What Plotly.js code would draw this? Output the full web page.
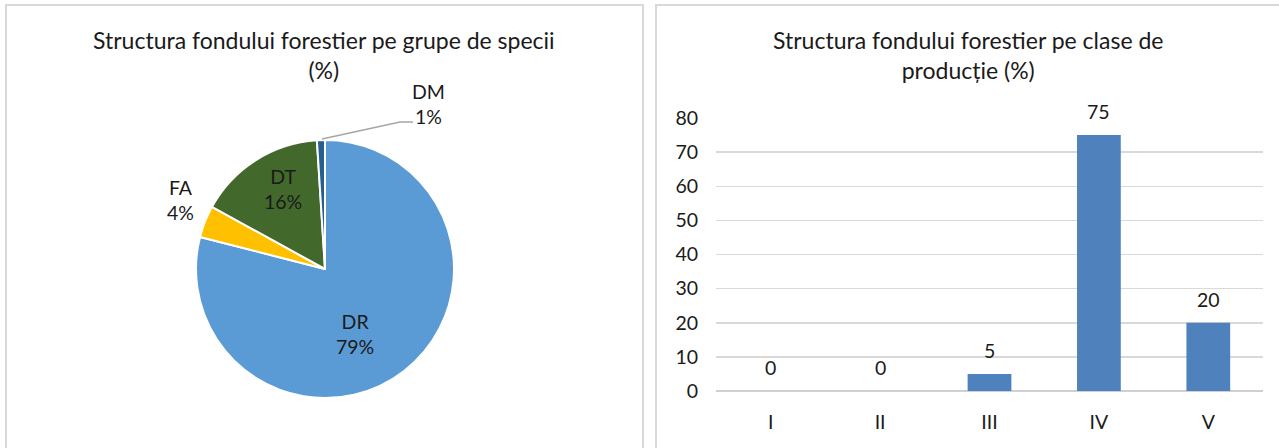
<!DOCTYPE html>
<html>
<head>
<meta charset="utf-8">
<script src="https://cdn.plot.ly/plotly-3.0.1.min.js"></script>
<style>html,body{margin:0;padding:0;background:#fff;}#chart{width:1279px;height:448px;}</style>
</head>
<body>
<div id="chart"></div>
<script>
// Pie: structure by species groups (%)
const pieLabels = ['DR', 'FA', 'DT', 'DM'];
const pieValues = [79, 4, 16, 1];
const pieColors = ['#5B9BD5', '#FFC000', '#43682B', '#255E91'];
const pieTitle = 'Structura fondului forestier pe grupe de specii<br>(%)';

// Bar: structure by production classes (%)
const barCategories = ['I', 'II', 'III', 'IV', 'V'];
const barValues = [0, 0, 5, 75, 20];
const barTitle = 'Structura fondului forestier pe clase de<br>producție (%)';
const yTicks = [0, 10, 20, 30, 40, 50, 60, 70, 80];

const FONT = 'Lato, "Open Sans", sans-serif';
const TXT = '#1a1a1a';
const TITLE_SIZE = 23;
const LABEL_SIZE = 19.5;
const W = 1279, H = 448;
const px = v => v / W;
const py = v => 1 - v / H;

const pieTrace = {
  type: 'pie',
  labels: pieLabels,
  values: pieValues,
  sort: false,
  direction: 'clockwise',
  rotation: 0,
  marker: {colors: pieColors, line: {color: '#ffffff', width: 2}},
  textinfo: 'none',
  domain: {x: [px(196), px(454)], y: [py(398), py(140)]},
  showlegend: false,
  hoverinfo: 'label+percent'
};

const barTrace = {
  type: 'bar',
  x: barCategories,
  y: barValues,
  marker: {color: '#4F81BD'},
  xaxis: 'x', yaxis: 'y',
  showlegend: false
};

const annotations = [
  {text: pieTitle, xref: 'paper', yref: 'paper', x: px(324), y: py(24), xanchor: 'center', yanchor: 'top',
   showarrow: false, font: {family: FONT, size: TITLE_SIZE, color: TXT}},
  {text: barTitle, xref: 'paper', yref: 'paper', x: px(968), y: py(24), xanchor: 'center', yanchor: 'top',
   showarrow: false, font: {family: FONT, size: TITLE_SIZE, color: TXT}}
];
// pie data-label anchor points (label placement, in pixels)
const pieLabelPos = {DR: [355, 334], FA: [180, 200], DT: [283, 189], DM: [428, 104]};
pieLabels.forEach((l, i) => {
  const p = pieLabelPos[l];
  annotations.push({text: l + '<br>' + pieValues[i] + '%', xref: 'paper', yref: 'paper',
    x: px(p[0]), y: py(p[1]), xanchor: 'center', yanchor: 'middle',
    showarrow: false, font: {family: FONT, size: LABEL_SIZE, color: TXT}});
});
barCategories.forEach((c, i) => {
  annotations.push({text: String(barValues[i]), x: c, y: barValues[i], xref: 'x', yref: 'y',
    showarrow: false, yanchor: 'bottom', yshift: 10, font: {family: FONT, size: LABEL_SIZE, color: TXT}});
});

const P = (x, y) => px(x).toFixed(5) + ',' + py(y).toFixed(5);
const shapes = [
  {type: 'rect', xref: 'paper', yref: 'paper', x0: px(6), x1: px(643), y0: py(460), y1: py(5),
   line: {color: '#D9D9D9', width: 2}, layer: 'below'},
  {type: 'rect', xref: 'paper', yref: 'paper', x0: px(656), x1: px(1290), y0: py(460), y1: py(5),
   line: {color: '#D9D9D9', width: 2}, layer: 'below'},
  // leader line for the DM label
  {type: 'path', xref: 'paper', yref: 'paper',
   path: 'M' + P(322, 139) + ' L' + P(400, 122) + ' L' + P(413, 122),
   line: {color: '#A6A6A6', width: 1.5}}
];

const layout = {
  width: W, height: H,
  margin: {l: 0, r: 0, t: 0, b: 0},
  paper_bgcolor: '#ffffff', plot_bgcolor: '#ffffff',
  font: {family: FONT, color: TXT},
  bargap: 0.6,
  xaxis: {domain: [px(716), px(1263)], showgrid: false, zeroline: false, showline: false,
    ticks: '', ticklabelstandoff: 17, tickfont: {family: FONT, size: LABEL_SIZE, color: TXT}, fixedrange: true},
  yaxis: {domain: [py(391), py(118)], range: [0, 80], tickvals: yTicks, showgrid: true,
    gridcolor: '#D9D9D9', gridwidth: 1.5, zeroline: true, zerolinecolor: '#D0D0D0', zerolinewidth: 1.5,
    showline: false, ticks: '', ticklabelstandoff: 17, tickfont: {family: FONT, size: LABEL_SIZE, color: TXT}, fixedrange: true},
  annotations: annotations,
  shapes: shapes
};

Plotly.newPlot('chart', [pieTrace, barTrace], layout, {displayModeBar: false, staticPlot: true});
</script>
</body>
</html>
